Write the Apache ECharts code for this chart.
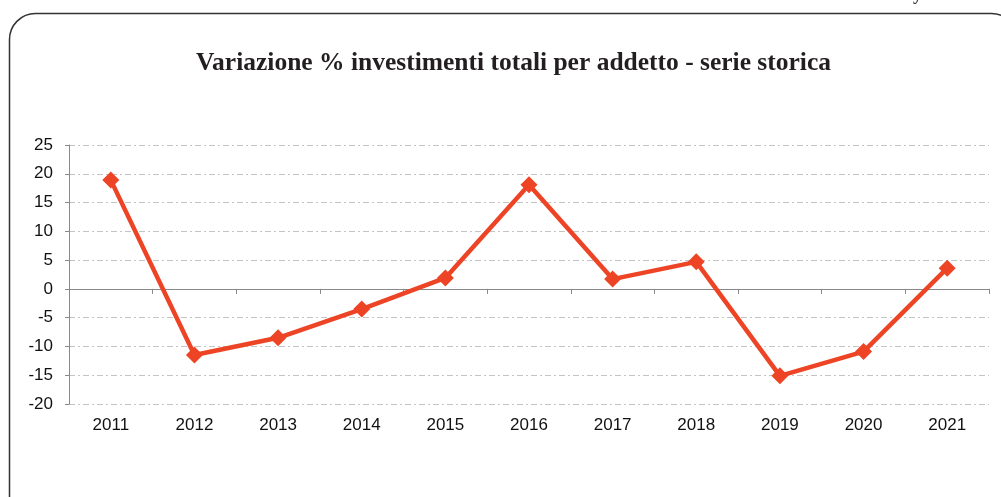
<!DOCTYPE html>
<html>
<head>
<meta charset="utf-8">
<script src="https://cdn.jsdelivr.net/npm/echarts@6/dist/echarts.min.js"></script>
<style>
  html, body { margin: 0; padding: 0; background: #fff; }
  #chart { width: 1001px; height: 497px; }
</style>
</head>
<body>
<div id="chart"></div>
<script>
// anni
var years = ['2011', '2012', '2013', '2014', '2015', '2016', '2017', '2018', '2019', '2020', '2021']
// variazione % investimenti per addetto
var variazione = [18.9, -11.5, -8.5, -3.5, 1.9, 18.1, 1.7, 4.7, -15.1, -10.9, 3.6]
var yMin = -20
var yMax = 25
var yStep = 5

var myChart = echarts.init(document.getElementById('chart'))
var gridLine = { show: true, lineStyle: { color: '#c4c4c4', width: 1, type: [6, 3, 2, 3] } }

var option = {
  animation: false,
  backgroundColor: '#fff',
  title: {
    text: 'Variazione % investimenti totali per addetto - serie storica',
    left: 191,
    top: 45,
    textStyle: {
      color: '#231f20',
      fontFamily: '"Liberation Serif", "Times New Roman", serif',
      fontWeight: 'bold',
      fontSize: 25.5
    }
  },
  graphic: [
    {
      type: 'rect',
      shape: { x: 9.5, y: 13.5, width: 1008, height: 600, r: 26 },
      style: { fill: 'none', stroke: '#333', lineWidth: 1.5 },
      silent: true
    },
    {
      // lettera tagliata in alto
      type: 'text',
      left: 913,
      top: -14,
      style: { text: 'y', fill: '#333', font: 'bold 18px "Liberation Serif", serif' },
      silent: true
    }
  ],
  grid: { left: 69, right: 12, top: 145, bottom: 93, containLabel: false },
  xAxis: [
    {
      // etichette in basso
      type: 'category',
      data: years,
      boundaryGap: true,
      position: 'bottom',
      axisLine: { show: false, onZero: false },
      axisTick: { show: false },
      axisLabel: {
        margin: 13,
        color: '#111',
        fontFamily: '"Liberation Sans", Arial, sans-serif',
        fontSize: 17
      }
    },
    {
      // asse sullo zero con tacche
      type: 'category',
      data: years,
      boundaryGap: true,
      position: 'bottom',
      axisLine: { show: true, onZero: true, lineStyle: { color: '#888', width: 1 } },
      axisTick: { show: true, inside: false, length: 5, lineStyle: { color: '#888' } },
      axisLabel: { show: false }
    }
  ],
  yAxis: {
    type: 'value',
    min: yMin,
    max: yMax,
    interval: yStep,
    axisLine: { show: true, lineStyle: { color: '#888', width: 1 } },
    axisTick: { show: true, length: 4, lineStyle: { color: '#888' } },
    axisLabel: {
      margin: 16,
      color: '#111',
      fontFamily: '"Liberation Sans", Arial, sans-serif',
      fontSize: 17
    },
    splitLine: gridLine
  },
  series: [
    {
      name: 'Variazione %',
      type: 'line',
      xAxisIndex: 0,
      data: variazione,
      symbol: 'diamond',
      symbolSize: 17,
      lineStyle: { color: '#ee4426', width: 4.5 },
      itemStyle: { color: '#ee4426' }
    }
  ]
}
myChart.setOption(option)
window.addEventListener('resize', function() {
  myChart.resize()
})
</script>
</body>
</html>
